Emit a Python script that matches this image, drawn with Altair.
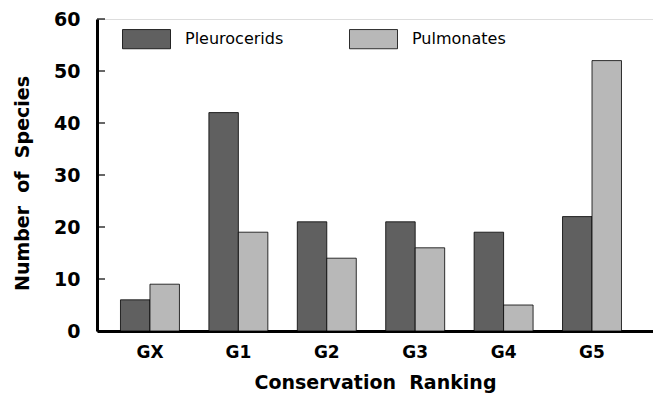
import altair as alt
import pandas as pd

categories = ["GX", "G1", "G2", "G3", "G4", "G5"]
pleurocerids = [6, 42, 21, 21, 19, 22]
pulmonates = [9, 19, 14, 16, 5, 52]
series = ["Pleurocerids", "Pulmonates"]
y_ticks = [0, 10, 20, 30, 40, 50, 60]

rows = []
for c, a, b in zip(categories, pleurocerids, pulmonates):
    rows.append({"rank": c, "group": series[0], "count": a})
    rows.append({"rank": c, "group": series[1], "count": b})
df = pd.DataFrame(rows)
ticks_df = pd.DataFrame({"t": y_ticks})

FONT = "DejaVu Sans"
NB = "\u00a0"

yscale = alt.Scale(domain=[0, 60], nice=False)

bars = alt.Chart(df).mark_bar(stroke="black", strokeWidth=0.8).encode(
    x=alt.X("rank:N", sort=categories,
            scale=alt.Scale(paddingInner=0.333, paddingOuter=0.311, align=0.427),
            axis=alt.Axis(title="Conservation" + NB + NB + "Ranking", labelAngle=0,
                          ticks=False, labelPadding=13, labelFontSize=17,
                          labelFontWeight="bold", labelFont=FONT, labelColor="black",
                          domainColor="black", domainWidth=3,
                          titleFont=FONT, titleFontSize=19, titleFontWeight="bold",
                          titleColor="black", titleX=278, titleY=51,
                          titleBaseline="middle", titleAlign="center")),
    xOffset=alt.XOffset("group:N", sort=series,
                        scale=alt.Scale(paddingInner=0, paddingOuter=0)),
    y=alt.Y("count:Q", scale=yscale,
            axis=alt.Axis(values=y_ticks, ticks=False, grid=False, labelPadding=17,
                          labelFontSize=19, labelFontWeight="bold", labelFont=FONT,
                          labelColor="black", domainColor="black", domainWidth=3,
                          title="Number" + NB + NB + "of" + NB + NB + "Species",
                          titleFont=FONT, titleFontSize=19, titleFontWeight="bold",
                          titleColor="black", titleAngle=270, titleX=-75, titleY=164,
                          titleBaseline="middle", titleAlign="center")),
    color=alt.Color("group:N", sort=series,
                    scale=alt.Scale(domain=series, range=["#606060", "#b8b8b8"]),
                    legend=alt.Legend(title=None, orient="none", legendX=25, legendY=-4.5,
                                      direction="horizontal", padding=0,
                                      symbolType="M-1,-0.4H1V0.4H-1Z", symbolSize=2304,
                                      symbolStrokeColor="black", symbolStrokeWidth=0.8,
                                      labelOffset=14, columnPadding=63,
                                      labelFont=FONT, labelFontSize=16,
                                      labelColor="black")),
)

tick_marks = alt.Chart(ticks_df).mark_rule(color="black", strokeWidth=1.2).encode(
    y=alt.Y("t:Q", scale=yscale),
    x=alt.value(0),
    x2=alt.value(8),
)

chart = alt.layer(bars, tick_marks).properties(
    width=556, height=312,
    autosize=alt.AutoSizeParams(type="none"),
    padding={"left": 89, "top": 11, "right": 0, "bottom": 72},
).configure_view(stroke=None).configure(background="white")

chart.save("out.html", embed_options={"renderer": "svg", "actions": False})
